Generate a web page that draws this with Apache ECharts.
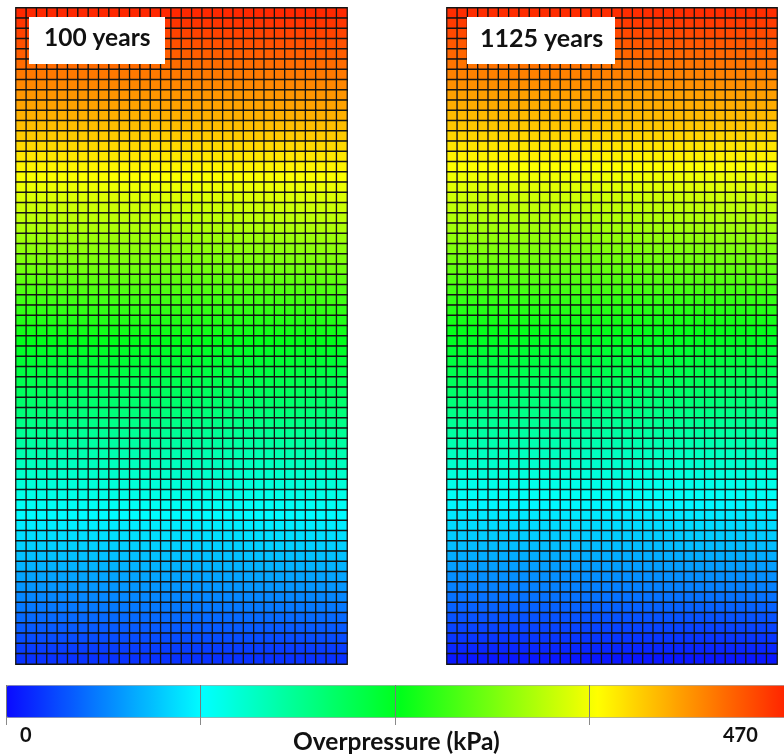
<!DOCTYPE html>
<html>
<head>
<meta charset="utf-8">
<script src="https://cdn.jsdelivr.net/npm/echarts@6/dist/echarts.min.js"></script>
<style>
  html, body { margin: 0; padding: 0; background: #fff; }
  #chart { width: 784px; height: 754px; }
</style>
</head>
<body>
<div id="chart"></div>
<script>
// mesh size: 32 columns x 64 rows per panel
const colCount = 32;
const cols = Array.from({length: colCount}, (_, i) => i);
const rowIdx = Array.from({length: 64}, (_, i) => i);

// overpressure (kPa) read per mesh row, top row first
const rows100 = [463, 456, 449, 442, 435, 428, 421, 414, 407, 400, 393, 386, 379, 372, 365, 358,
  351, 344, 337, 329, 322, 315, 307, 300, 293, 286, 278, 271, 264, 257, 250, 243,
  235, 228, 221, 214, 207, 200, 193, 186, 179, 172, 165, 158, 151, 144, 137, 130,
  123, 116, 109, 102, 95, 88, 81, 74, 67, 60, 53, 46, 39, 32, 25, 19];
const rows1125 = [460, 453, 446, 438, 431, 424, 417, 410, 402, 395, 388, 381, 374, 366, 359, 352,
  345, 338, 330, 323, 316, 309, 302, 294, 287, 280, 273, 266, 258, 251, 244, 237,
  230, 222, 215, 208, 201, 194, 186, 179, 172, 165, 158, 150, 143, 136, 129, 122,
  114, 107, 100, 93, 86, 78, 71, 64, 57, 50, 42, 35, 28, 21, 14, 6];

const panelTitles = ['100 years', '1125 years'];
const pMin = 0;
const pMax = 470;
const barTicks = [0, 117.5, 235, 352.5, 470];

function cells(rowVals) {
  let out = [];
  rowVals.forEach(function (v, r) {
    cols.forEach(function (c) {
      out.push([c, r, v]);
    });
  });
  return out;
}

const hiddenCat = function (data, idx, inverse) {
  return {
    type: 'category',
    gridIndex: idx,
    data: data,
    inverse: !!inverse,
    show: false
  };
};

const cellStyle = {
  borderColor: '#141414',
  borderWidth: 1.3
};

let option = {
  backgroundColor: '#ffffff',
  animation: false,
  grid: [
    {left: 16, top: 8, width: 331, height: 656},
    {left: 447, top: 8, width: 330, height: 656},
    {left: 6, top: 685, width: 788, height: 32}
  ],
  xAxis: [
    hiddenCat(cols, 0),
    hiddenCat(cols, 1),
    {
      type: 'value',
      gridIndex: 2,
      min: pMin,
      max: pMax,
      interval: 117.5,
      z: 10,
      axisLine: {show: false},
      axisTick: {show: true, length: 8, lineStyle: {color: '#8a8a8a', width: 1}},
      splitLine: {show: true, lineStyle: {color: '#7a7a7a', width: 1}},
      axisLabel: {show: false}
    }
  ],
  yAxis: [
    hiddenCat(rowIdx, 0, true),
    hiddenCat(rowIdx, 1, true),
    {type: 'value', gridIndex: 2, show: false}
  ],
  visualMap: {
    type: 'continuous',
    seriesIndex: [0, 1],
    min: pMin,
    max: pMax,
    orient: 'horizontal',
    left: 6,
    top: 685,
    itemWidth: 32,
    itemHeight: 788,
    padding: 0,
    calculable: false,
    text: ['', ''],
    showLabel: false,
    borderColor: '#9a9a9a',
    borderWidth: 1,
    inRange: {
      color: ['#0a0aff', '#00ffff', '#00ff1a', '#ffff00', '#ff1a00']
    }
  },
  graphic: [
    {type: 'rect', left: 29, top: 17, shape: {width: 136, height: 47}, style: {fill: '#fff'}, z: 20},
    {type: 'text', left: 44, top: 26, style: {text: panelTitles[0], fill: '#111', font: 'bold 24.5px Lato'}, z: 21},
    {type: 'rect', left: 467, top: 17, shape: {width: 148, height: 47}, style: {fill: '#fff'}, z: 20},
    {type: 'text', left: 480, top: 26, style: {text: panelTitles[1], fill: '#111', font: 'bold 25px Lato'}, z: 21},
    {type: 'text', left: 20, top: 726, style: {text: String(barTicks[0]), fill: '#111', font: 'bold 20px Lato'}},
    {type: 'text', left: 723, top: 726, style: {text: String(barTicks[4]), fill: '#111', font: 'bold 20px Lato'}},
    {type: 'text', left: 293, top: 730, style: {text: 'Overpressure (kPa)', fill: '#111', font: 'bold 24.5px Lato'}}
  ],
  series: [
    {
      name: panelTitles[0],
      type: 'heatmap',
      xAxisIndex: 0,
      yAxisIndex: 0,
      data: cells(rows100),
      itemStyle: cellStyle
    },
    {
      name: panelTitles[1],
      type: 'heatmap',
      xAxisIndex: 1,
      yAxisIndex: 1,
      data: cells(rows1125),
      itemStyle: cellStyle
    }
  ]
};

echarts.init(document.getElementById('chart')).setOption(option);
</script>
</body>
</html>
